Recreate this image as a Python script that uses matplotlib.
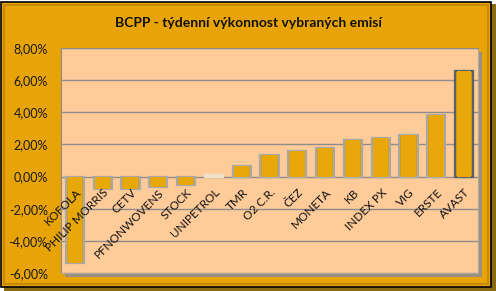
import matplotlib
matplotlib.use("Agg")
import matplotlib.pyplot as plt
from matplotlib.patches import Rectangle
import numpy as np

plt.rcParams['font.family'] = ['Lato', 'DejaVu Sans']

title = "BCPP - týdenní výkonnost vybraných emisí"
categories = ["KOFOLA", "PHILIP MORRIS", "CETV", "PFNONWOVENS", "STOCK", "UNIPETROL",
              "TMR", "O2 C.R.", "ČEZ", "MONETA", "KB", "INDEX PX", "VIG", "ERSTE", "AVAST"]
values = [-5.4, -0.76, -0.75, -0.67, -0.5, 0.07, 0.64, 1.37, 1.58, 1.8, 2.3, 2.4, 2.56, 3.83, 6.58]
yticks = [-6, -4, -2, 0, 2, 4, 6, 8]
ytick_labels = ["-6,00%", "-4,00%", "-2,00%", "0,00%", "2,00%", "4,00%", "6,00%", "8,00%"]

W, H = 496, 291
fig = plt.figure(figsize=(W / 100, H / 100), dpi=100)
fig.patch.set_facecolor('white')

gold = '#E8A407'
# outer frame with shadow
fig.patches.append(Rectangle((4 / W, 0), (W - 4) / W, (H - 4) / H, transform=fig.transFigure,
                             facecolor='#8A6A10', edgecolor='none', zorder=0))
fig.patches.append(Rectangle((1 / W, 4 / H), (W - 6) / W, (H - 6) / H, transform=fig.transFigure,
                             facecolor=gold, edgecolor='black', linewidth=1.2, zorder=1))
fig.patches.append(Rectangle((4 / W, 7 / H), (W - 12) / W, (H - 12) / H, transform=fig.transFigure,
                             facecolor='none', edgecolor='#C88A00', linewidth=1.5, zorder=1))

x0, x1 = 61, 478
y_top, y_bot = 48, 273
# plot area shadow
fig.patches.append(Rectangle(((x0 + 4) / W, (H - y_bot - 4) / H), (x1 - x0) / W, (y_bot - y_top) / H,
                             transform=fig.transFigure, facecolor='#9A9080', edgecolor='none', zorder=1))

ax = fig.add_axes([x0 / W, (H - y_bot) / H, (x1 - x0) / W, (y_bot - y_top) / H])
ax.set_facecolor('#FFCC99')
ax.set_zorder(2)

x = np.arange(len(categories))
ax.set_xlim(-0.5, len(categories) - 0.5)
ax.set_ylim(-6, 8)
ax.set_yticks(yticks)
ax.set_yticklabels(ytick_labels, fontsize=9, color='#1a1a1a')
ax.tick_params(axis='y', length=0, pad=9.5)
ax.set_xticks([])
for y in yticks:
    ax.axhline(y, color='#8C8C8C', linewidth=1.0, zorder=1)

for s in ['right', 'bottom']:
    ax.spines[s].set_color('#B0A898')
for s in ['left', 'top']:
    ax.spines[s].set_color('#8C8C8C')

edgecols = ['#A8A8A8'] * len(categories)
edgecols[-1] = '#5A6068'
for i, v in enumerate(values):
    fc = '#DC9C05' if abs(v) > 0.15 else '#F6EAD6'
    ec = edgecols[i] if abs(v) > 0.15 else '#EFE2CC'
    ax.bar(x[i], v, width=0.66, color=fc, edgecolor=ec, linewidth=1.6, zorder=3)
    if abs(v) > 0.3:
        ax.bar(x[i], v, width=0.52, color='#E8A80A', edgecolor='none', zorder=3)

for i, lab in enumerate(categories):
    ax.annotate(lab, xy=(x[i], 0), xytext=(3, -10), textcoords='offset points',
                ha='right', va='center', rotation=45, rotation_mode='anchor',
                fontsize=8.5, color='#111111', zorder=5)

fig.text(248 / W, 1 - 23 / H, title, ha='center', va='center', fontsize=10, fontweight='bold',
         color='#111111')

fig.savefig('out.png', dpi=100, facecolor=fig.get_facecolor())
